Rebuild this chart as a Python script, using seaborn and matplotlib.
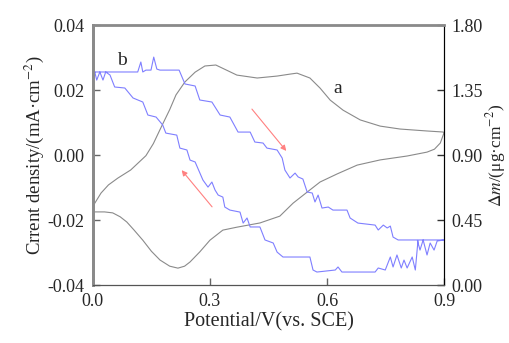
import pandas as pd
import matplotlib.pyplot as plt
import seaborn as sns

# curve a: cyclic voltammogram (left axis), forward then reverse scan
cv_potential = [0.000, 0.030, 0.051, 0.070, 0.087, 0.105, 0.128, 0.150, 0.172, 0.197,
                0.218, 0.235, 0.249, 0.274, 0.300, 0.333, 0.369, 0.428, 0.479, 0.513,
                0.549, 0.582, 0.626, 0.677, 0.736, 0.805, 0.856, 0.875, 0.890, 0.900,
                0.895, 0.856, 0.787, 0.736, 0.685, 0.641, 0.608, 0.582, 0.556, 0.523,
                0.505, 0.472, 0.421, 0.369, 0.315, 0.287, 0.262, 0.236, 0.213, 0.197,
                0.172, 0.155, 0.136, 0.097, 0.064, 0.040, 0.021, 0.000]
cv_current = [-0.0175, -0.0175, -0.0178, -0.0190, -0.0206, -0.0230, -0.0262, -0.0296, -0.0323, -0.0342,
              -0.0348, -0.0342, -0.0329, -0.0298, -0.0262, -0.0231, -0.0222, -0.0209, -0.0188, -0.0148,
              -0.0114, -0.0083, -0.0058, -0.0031, -0.0015, -0.0003, 0.0009, 0.0018, 0.0037, 0.0070,
              0.0071, 0.0074, 0.0080, 0.0089, 0.0108, 0.0138, 0.0169, 0.0206, 0.0237, 0.0252,
              0.0249, 0.0243, 0.0237, 0.0246, 0.0277, 0.0274, 0.0255, 0.0225, 0.0185, 0.0140,
              0.0078, 0.0035, -0.0002, -0.0046, -0.0071, -0.0092, -0.0117, -0.0158]

# curve b: mass change (right axis)
qcm_potential = [0.000, 0.115, 0.123, 0.128, 0.136, 0.149, 0.156, 0.164, 0.172, 0.221,
                 0.236, 0.262, 0.274, 0.305, 0.326, 0.351, 0.372, 0.403, 0.415, 0.436,
                 0.446, 0.472, 0.485, 0.492, 0.505, 0.518, 0.526, 0.538, 0.549, 0.562,
                 0.569, 0.577, 0.587, 0.603, 0.615, 0.651, 0.659, 0.679, 0.723, 0.731,
                 0.744, 0.754, 0.762, 0.769, 0.782, 0.831, 0.838, 0.846, 0.856, 0.864,
                 0.874, 0.882, 0.900,
                 0.833, 0.826, 0.818, 0.805, 0.797, 0.790, 0.779, 0.769, 0.762, 0.749,
                 0.731, 0.723, 0.638, 0.628, 0.621, 0.574, 0.564, 0.556, 0.497, 0.487,
                 0.472, 0.462, 0.441, 0.428, 0.403, 0.395, 0.385, 0.377, 0.351, 0.338,
                 0.333, 0.321, 0.313, 0.305, 0.295, 0.282, 0.262, 0.249, 0.241, 0.223,
                 0.215, 0.187, 0.179, 0.162, 0.141, 0.128, 0.103, 0.082, 0.056, 0.044,
                 0.033, 0.026, 0.018, 0.010, 0.005, 0.000]
qcm_mass = [1.475, 1.475, 1.544, 1.475, 1.488, 1.488, 1.578, 1.495, 1.488, 1.488,
            1.392, 1.378, 1.281, 1.267, 1.177, 1.163, 1.059, 1.059, 0.990, 0.983,
            0.948, 0.935, 0.879, 0.796, 0.741, 0.775, 0.748, 0.734, 0.644, 0.637,
            0.575, 0.623, 0.533, 0.540, 0.519, 0.519, 0.464, 0.429, 0.415, 0.381,
            0.415, 0.395, 0.408, 0.332, 0.312, 0.312, 0.242, 0.312, 0.208, 0.291,
            0.242, 0.305, 0.312,
            0.312, 0.104, 0.194, 0.118, 0.173, 0.118, 0.208, 0.125, 0.194, 0.104,
            0.118, 0.090, 0.090, 0.125, 0.104, 0.090, 0.104, 0.194, 0.194, 0.194,
            0.228, 0.291, 0.312, 0.402, 0.402, 0.464, 0.429, 0.505, 0.519, 0.540,
            0.609, 0.623, 0.658, 0.713, 0.678, 0.727, 0.852, 0.865, 0.935, 0.948,
            1.038, 1.052, 1.108, 1.163, 1.177, 1.267, 1.295, 1.364, 1.371, 1.454,
            1.475, 1.419, 1.475, 1.419, 1.475, 1.433]

cv = pd.DataFrame({"E": cv_potential, "j": cv_current})
qcm = pd.DataFrame({"E": qcm_potential, "dm": qcm_mass})

sns.set_style("ticks")
plt.rcParams["font.family"] = ["Liberation Serif", "DejaVu Serif"]
plt.rcParams["mathtext.fontset"] = "stix"
plt.rcParams["axes.unicode_minus"] = False

fig = plt.figure(figsize=(5.1, 3.43), dpi=100)
ax = fig.add_axes([0.182, 0.169, 0.689, 0.758])
ax2 = ax.twinx()

sns.lineplot(data=cv, x="E", y="j", sort=False, estimator=None, ax=ax,
             color="#8a8a8a", linewidth=0.8)
sns.lineplot(data=qcm, x="E", y="dm", sort=False, estimator=None, ax=ax2,
             color="#7f7fff", linewidth=0.8)

ax.set_xlim(0, 0.9)
ax.set_ylim(-0.04, 0.04)
ax2.set_ylim(0, 1.8)
ax.set_xticks([0.0, 0.3, 0.6, 0.9])
ax.set_yticks([-0.04, -0.02, 0.0, 0.02, 0.04])
ax2.set_yticks([0.0, 0.45, 0.90, 1.35, 1.80])
ax.xaxis.set_major_formatter(plt.FormatStrFormatter("%.1f"))
ax.yaxis.set_major_formatter(plt.FormatStrFormatter("%.2f"))
ax2.yaxis.set_major_formatter(plt.FormatStrFormatter("%.2f"))

ax.tick_params(direction="in", length=5, labelsize=13, width=1, color="#666666", pad=6)
ax2.tick_params(direction="in", length=5, labelsize=13, width=1, color="#333333", pad=5)

ax.set_xlabel("Potential/V(vs. SCE)", fontsize=14.5, labelpad=1)
ax.set_ylabel("Crrent density/(mA·cm$^{-2}$)", fontsize=13.5, labelpad=1)
ax2.set_ylabel("$\\Delta m$/(μg·cm$^{-2}$)", fontsize=12.5, labelpad=1)

for name, sp in ax2.spines.items():
    sp.set_visible(True)
ax2.spines["left"].set_color("#8a8a8a")
ax2.spines["left"].set_linewidth(2)
ax2.spines["top"].set_color("#8a8a8a")
ax2.spines["top"].set_linewidth(2)
ax2.spines["bottom"].set_color("#555555")
ax2.spines["right"].set_color("black")
ax.spines["left"].set_color("#8a8a8a")
ax.spines["left"].set_linewidth(2)

# scan direction arrows
arrow_style = dict(arrowstyle="-|>", color="#ff8080", lw=0.8, mutation_scale=8)
ax.annotate("", xy=(0.500, 0.0006), xytext=(0.403, 0.0148), arrowprops=arrow_style)
ax.annotate("", xy=(0.223, -0.0040), xytext=(0.310, -0.0166), arrowprops=arrow_style)

ax.text(0.074, 0.0292, "b", fontsize=14, ha="center", va="center")
ax.text(0.626, 0.0206, "a", fontsize=14, ha="center", va="center")

fig.savefig("out.png", dpi=100)
